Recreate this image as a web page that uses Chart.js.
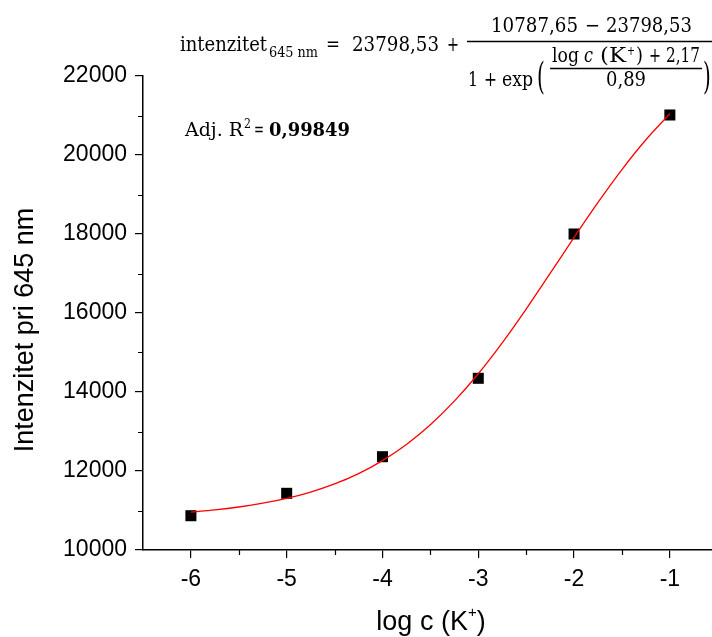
<!DOCTYPE html>
<html><head><meta charset="utf-8">
<script src="https://cdn.jsdelivr.net/npm/chart.js@4/dist/chart.umd.min.js"></script>
<style>html,body{margin:0;padding:0;background:#fff;overflow:hidden;width:712px;height:637px}canvas{display:block}</style>
</head><body>
<canvas id="c" width="712" height="637" style="width:712px;height:637px"></canvas>
<script>
// measured points
const logC = [-6, -5, -4, -3, -2, -1];
const intensity = [10868, 11435, 12362, 14347, 18000, 21013];
// fitted curve
const fitX = [-6, -5.75, -5.5, -5.25, -5, -4.75, -4.5, -4.25, -4, -3.75, -3.5, -3.25, -3, -2.75, -2.5, -2.25, -2, -1.75, -1.5, -1.25, -1];
const fitY = [10961, 11016, 11089, 11184, 11307, 11467, 11672, 11934, 12264, 12672, 13172, 13769, 14462, 15245, 16101, 17001, 17913, 18800, 19632, 20385, 21044];
// ticks
const xTicks = [-6, -5, -4, -3, -2, -1];
const xTickLabels = ['-6', '-5', '-4', '-3', '-2', '-1'];
const xMinorTicks = [-5.5, -4.5, -3.5, -2.5, -1.5];
const yTicks = [10000, 12000, 14000, 16000, 18000, 20000, 22000];
const yTickLabels = ['10000', '12000', '14000', '16000', '18000', '20000', '22000'];
const yMinorTicks = [11000, 13000, 15000, 17000, 19000, 21000];
const yTitle = 'Intenzitet pri 645 nm';
const r2Value = '0,99849';

const SANS = '"Liberation Sans", Arial, sans-serif';
const SERIF = '"DejaVu Serif", "Liberation Serif", serif';

// draw text squeezed/stretched horizontally to occupy [x0, x1]
function fitText(ctx, text, x0, x1, y, font) {
  ctx.save();
  ctx.font = font;
  ctx.textAlign = 'left';
  const w = ctx.measureText(text).width;
  const s = (x1 - x0) / w;
  ctx.translate(x0, y);
  ctx.scale(s, 1);
  ctx.fillText(text, 0, 0);
  ctx.restore();
}

const decorPlugin = {
  id: 'decor',
  afterDraw(chart) {
    const ctx = chart.ctx;
    const xs = chart.scales.x, ys = chart.scales.y;
    const area = chart.chartArea;
    ctx.save();
    // minor ticks
    ctx.strokeStyle = '#000';
    ctx.lineWidth = 1.2;
    ctx.beginPath();
    xMinorTicks.forEach(v => {
      const p = Math.round(xs.getPixelForValue(v)) + 0.5;
      ctx.moveTo(p, area.bottom); ctx.lineTo(p, area.bottom + 5);
    });
    yMinorTicks.forEach(v => {
      const p = Math.round(ys.getPixelForValue(v)) + 0.5;
      ctx.moveTo(area.left - 5, p); ctx.lineTo(area.left, p);
    });
    ctx.stroke();

    ctx.fillStyle = '#000';
    ctx.textBaseline = 'alphabetic';
    // y title
    ctx.save();
    ctx.translate(33, 330);
    ctx.rotate(-Math.PI / 2);
    ctx.font = '27px ' + SANS;
    ctx.textAlign = 'center';
    ctx.fillText(yTitle, 0, 0);
    ctx.restore();

    // x title: log c (K+)
    ctx.textAlign = 'left';
    const t1 = 'log c (K', t3 = ')';
    ctx.font = '27px ' + SANS;
    const w1 = ctx.measureText(t1).width;
    ctx.font = '15px ' + SANS;
    const w2 = ctx.measureText('+').width;
    ctx.font = '27px ' + SANS;
    const w3 = ctx.measureText(t3).width;
    const x0 = 431 - (w1 + w2 + w3) / 2;
    const yb = 630;
    ctx.fillText(t1, x0, yb);
    ctx.font = '15px ' + SANS;
    ctx.fillText('+', x0 + w1, yb - 13);
    ctx.font = '27px ' + SANS;
    ctx.fillText(t3, x0 + w1 + w2, yb);

    // Adj. R2
    const ay = 136;
    fitText(ctx, 'Adj. R', 185, 243, ay, '18px ' + SERIF);
    fitText(ctx, '2', 244, 251, ay - 8, '12px ' + SERIF);
    fitText(ctx, '=', 254, 264, ay, '18px ' + SERIF);
    fitText(ctx, r2Value, 269, 350, ay, 'bold 18px ' + SERIF);

    // equation
    const F = '20px ' + SERIF;
    fitText(ctx, 'intenzitet', 180, 267, 51, F);
    fitText(ctx, '645 nm', 269, 318, 57, '14px ' + SERIF);
    fitText(ctx, '=', 326, 340, 51, F);
    fitText(ctx, '23798,53', 352, 439, 51, F);
    fitText(ctx, '+', 447, 459, 51, F);
    // main fraction
    ctx.lineWidth = 1.6;
    ctx.beginPath(); ctx.moveTo(467, 41.5); ctx.lineTo(712, 41.5); ctx.stroke();
    fitText(ctx, '10787,65', 491, 578, 32, F);
    fitText(ctx, '\u2212', 585, 600, 32, F);
    fitText(ctx, '23798,53', 606, 692, 32, F);
    fitText(ctx, '1', 468, 478, 86, F);
    fitText(ctx, '+', 484, 497, 86, F);
    fitText(ctx, 'exp', 502, 533, 86, F);
    // big parens
    ctx.save();
    ctx.font = '20px ' + SERIF;
    ctx.translate(537, 89);
    ctx.scale(1.0, 1.9);
    ctx.fillText('(', 0, 0);
    ctx.restore();
    ctx.save();
    ctx.font = '20px ' + SERIF;
    ctx.translate(703, 89);
    ctx.scale(1.0, 1.9);
    ctx.fillText(')', 0, 0);
    ctx.restore();
    // inner fraction numerator: log c (K+) + 2,17
    fitText(ctx, 'log', 552, 579, 62, F);
    fitText(ctx, 'c', 584, 593, 62, 'italic 20px ' + SERIF);
    fitText(ctx, '(K', 600, 626, 62, F);
    fitText(ctx, '+', 627, 635, 55, '13px ' + SERIF);
    fitText(ctx, ')', 636, 643, 62, F);
    fitText(ctx, '+', 649, 661, 62, F);
    fitText(ctx, '2,17', 666, 700, 62, F);
    ctx.lineWidth = 1.4;
    ctx.beginPath(); ctx.moveTo(550, 68.5); ctx.lineTo(702, 68.5); ctx.stroke();
    fitText(ctx, '0,89', 606, 646, 86, F);
    ctx.restore();
  }
};

const noPad = s => { s.paddingLeft = 0; s.paddingRight = 0; s.paddingTop = 0; s.paddingBottom = 0; };

new Chart(document.getElementById('c'), {
  type: 'scatter',
  data: {
    datasets: [
      {
        type: 'line',
        label: 'fit',
        data: fitX.map((x, i) => ({ x: x, y: fitY[i] })),
        borderColor: '#ff0000',
        borderWidth: 1.3,
        pointRadius: 0,
        fill: false,
        cubicInterpolationMode: 'monotone',
        order: 0
      },
      {
        label: 'data',
        data: logC.map((x, i) => ({ x: x, y: intensity[i] })),
        pointStyle: 'rect',
        pointRadius: 7.8,
        backgroundColor: '#000',
        borderColor: '#000',
        borderWidth: 0,
        order: 1
      }
    ]
  },
  options: {
    responsive: false,
    animation: false,
    devicePixelRatio: 1,
    layout: { autoPadding: false, padding: { top: 76, left: 0, right: 0, bottom: 0 } },
    plugins: { legend: { display: false }, tooltip: { enabled: false } },
    scales: {
      x: {
        type: 'linear', min: -6.5, max: -0.56,
        afterBuildTicks: s => { s.ticks = xTicks.map(v => ({ value: v })); },
        afterFit: s => { s.height = 87; noPad(s); },
        grid: { drawOnChartArea: false, drawTicks: true, tickLength: 8, color: '#000', lineWidth: 1.2 },
        border: { display: true, color: '#000', width: 1.5 },
        ticks: { color: '#000', font: { family: SANS, size: 23 }, padding: 8, maxRotation: 0,
                 callback: (v, i) => xTickLabels[i] }
      },
      y: {
        type: 'linear', min: 10000, max: 22000,
        afterBuildTicks: s => { s.ticks = yTicks.map(v => ({ value: v })); },
        afterFit: s => { s.width = 143; noPad(s); },
        grid: { drawOnChartArea: false, drawTicks: true, tickLength: 8, color: '#000', lineWidth: 1.2 },
        border: { display: true, color: '#000', width: 1.5 },
        ticks: { color: '#000', font: { family: SANS, size: 23 }, padding: 8,
                 callback: (v, i) => yTickLabels[i] }
      }
    }
  },
  plugins: [decorPlugin]
});
</script>
</body></html>
